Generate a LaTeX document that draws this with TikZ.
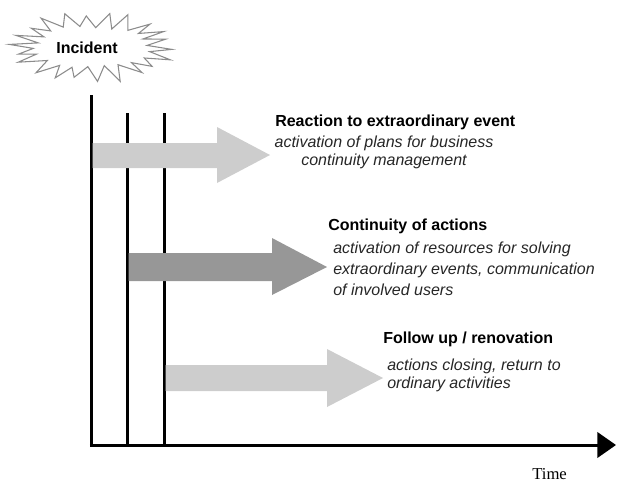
\documentclass[tikz,border=0pt]{standalone}
\usepackage{fontspec}
\setmainfont{Liberation Sans}
\newfontfamily\timesfont{Liberation Serif}
\usetikzlibrary{arrows.meta}
\definecolor{lightarr}{HTML}{CDCDCD}
\definecolor{darkarr}{HTML}{979797}
\definecolor{burstline}{HTML}{8C8C8C}
\tikzset{
  vline/.style={line width=2.25pt, black},
  lightarrow/.style={fill=lightarr},
  darkarrow/.style={fill=darkarr},
  title/.style={font=\fontsize{12}{14}\selectfont\bfseries, inner sep=0pt, anchor=base west},
  body/.style={font=\fontsize{12}{13.5}\selectfont\itshape, inner sep=0pt, color=black!85},
}
\begin{document}
\begin{tikzpicture}[x=0.75pt,y=-0.75pt]
\useasboundingbox (0,0) rectangle (617,482);
% starburst
\draw[burstline, line width=0.8pt, fill=white]
  plot[samples at={0,...,43}, variable=\i]
  ({92+cos(\i*360/44+4)*((mod(\i,2)==0) ? (80+5*sin(\i*67)) : (57+3*sin(\i*41)))},
   {47+sin(\i*360/44+4)*((mod(\i,2)==0) ? (34+3*sin(\i*53)) : (21+2*sin(\i*29)))}) -- cycle;
\node[font=\fontsize{12}{14}\selectfont\bfseries, inner sep=0pt] (incident) at (87,48) {Incident};
% vertical lines
\coordinate (l1top) at (91,95);
\coordinate (l1bot) at (91,446.5);
\coordinate (l2top) at (127,113);
\coordinate (l2bot) at (127,446.5);
\coordinate (l3top) at (164,113);
\coordinate (l3bot) at (164,446.5);
\draw[vline] (l1top) -- (l1bot);
\draw[vline] (l2top) -- (l2bot);
\draw[vline] (l3top) -- (l3bot);
% axis
\coordinate (origin) at (89.9,445);
\coordinate (axisend) at (616,445);
\draw[vline, -{Triangle[length=14pt,width=19pt]}] (origin) -- (axisend);
% arrows
\fill[lightarrow] (92.5,143) -- (217,143) -- (217,127) -- (270,155) -- (217,183) -- (217,168) -- (92.5,168) -- cycle;
\fill[darkarrow] (128.5,253) -- (272,253) -- (272,238) -- (327,267) -- (272,295) -- (272,281) -- (128.5,281) -- cycle;
\fill[lightarrow] (165.5,365) -- (327,365) -- (327,349) -- (383,378) -- (327,407) -- (327,391) -- (165.5,391) -- cycle;
% texts
\node[title] (t1) at (275,126) {Reaction to extraordinary event};
\node[body, align=center, anchor=base] (b1) at (384,165) {activation of plans for business\\continuity management};
\node[title] (t2) at (328,230) {Continuity of actions};
\node[body, align=left, anchor=base west, font=\fontsize{12}{15.75}\selectfont\itshape] (b2) at (333,295) {activation of resources for solving\\extraordinary events, communication\\of involved users};
\node[title] (t3) at (383,343) {Follow up / renovation};
\node[body, align=left, anchor=base west] (b3) at (387,388) {actions closing, return to\\ordinary activities};
\node[font=\fontsize{12.5}{14}\selectfont\timesfont, inner sep=0pt, anchor=base west] (time) at (532,479) {Time};
\end{tikzpicture}
\end{document}
